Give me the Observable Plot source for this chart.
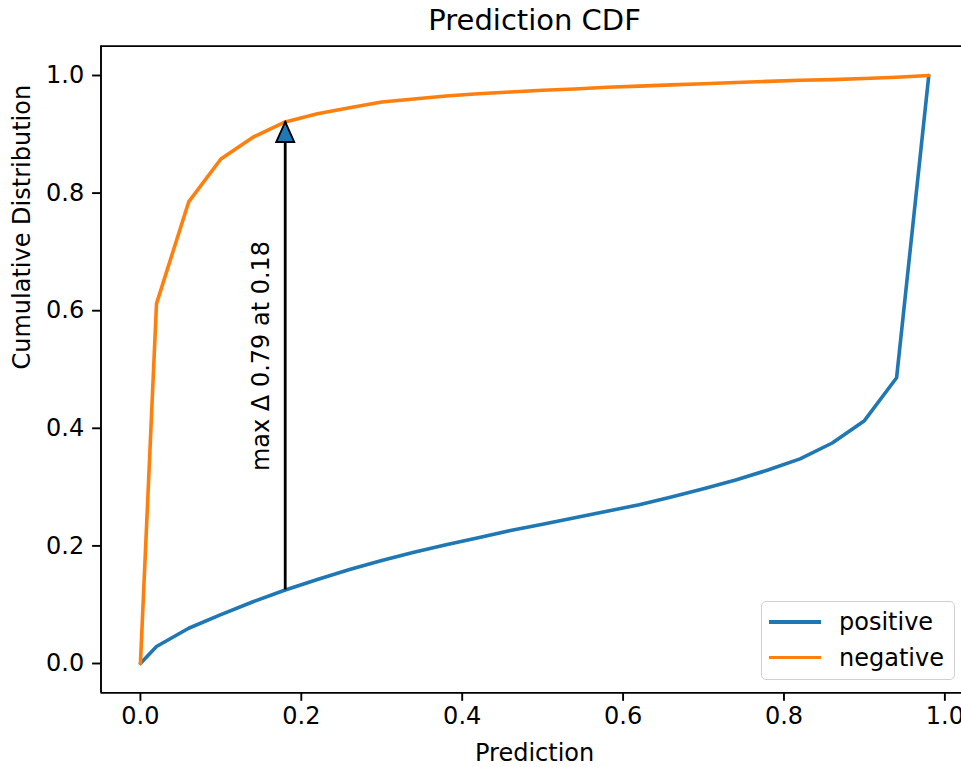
<!DOCTYPE html>
<html>
<head>
<meta charset="utf-8">
<script src="https://cdn.jsdelivr.net/npm/d3@7"></script>
<script src="https://cdn.jsdelivr.net/npm/@observablehq/plot@0.6"></script>
<style>
  html, body { margin: 0; padding: 0; background: #fff; }
  #wrap { position: relative; width: 961px; height: 767px; overflow: hidden; font-family: "DejaVu Sans", sans-serif; }
  #legend { position: absolute; left: 761px; top: 601px; width: 192px; height: 77px; border: 1.7px solid #d0d0d0; border-radius: 5px; background: rgba(255,255,255,0.85); }
  .item { position: absolute; left: 0; width: 100%; height: 30px; font-size: 24px; color: #000; }
  .swatch { position: absolute; left: 7px; width: 52px; height: 3.6px; top: 13.2px; }
  .lab { position: absolute; left: 77px; top: 0; white-space: nowrap; line-height: 30px; }
</style>
</head>
<body>
<div id="wrap"></div>
<script>
// ---- data ----
const thresholds = [0, 0.02, 0.06, 0.10, 0.14, 0.18, 0.22, 0.26, 0.30, 0.34, 0.38, 0.42, 0.46, 0.50, 0.54, 0.58, 0.62, 0.66, 0.70, 0.74, 0.78, 0.82, 0.86, 0.90, 0.94, 0.98];
const positiveCdf = [0, 0.029, 0.060, 0.083, 0.105, 0.125, 0.143, 0.160, 0.175, 0.189, 0.202, 0.214, 0.226, 0.237, 0.248, 0.259, 0.270, 0.283, 0.297, 0.312, 0.329, 0.348, 0.375, 0.413, 0.486, 1.0];
const negativeCdf = [0, 0.612, 0.785, 0.858, 0.895, 0.921, 0.935, 0.945, 0.955, 0.960, 0.965, 0.969, 0.972, 0.975, 0.977, 0.980, 0.982, 0.984, 0.986, 0.988, 0.990, 0.992, 0.993, 0.995, 0.997, 1.0];
const seriesNames = ["positive", "negative"];
const seriesColors = ["#1f77b4", "#ff7f0e"];
const xTicks = [0, 0.2, 0.4, 0.6, 0.8, 1.0];
const yTicks = [0, 0.2, 0.4, 0.6, 0.8, 1.0];
const xDomain = [-0.049, 1.029];
const yDomain = [-0.05, 1.05];
const maxDeltaAt = 0.18;
const maxDeltaLow = 0.125;
const maxDeltaHigh = 0.921;
const annotationText = "max Δ 0.79 at 0.18";
const titleText = "Prediction CDF";
const xLabel = "Prediction";
const yLabel = "Cumulative Distribution";

const rows = [];
thresholds.forEach((t, i) => rows.push({x: t, y: positiveCdf[i], s: seriesNames[0]}));
thresholds.forEach((t, i) => rows.push({x: t, y: negativeCdf[i], s: seriesNames[1]}));

const arrowData = [{x: maxDeltaAt, y1: maxDeltaLow, y2: maxDeltaHigh, ymid: (maxDeltaLow + maxDeltaHigh) / 2, label: annotationText}];

const headShape = {
  draw(ctx) {
    ctx.moveTo(0, 0);
    ctx.lineTo(9, 20);
    ctx.lineTo(-9, 20);
    ctx.closePath();
  }
};

const FONT = "DejaVu Sans";
const FS = 24;
const W = 961, H = 767;
const mL = 100.5, mR = -6.7, mT = 45.6, mB = 74.6;

const chart = Plot.plot({
  width: W,
  height: H,
  marginLeft: mL,
  marginRight: mR,
  marginTop: mT,
  marginBottom: mB,
  style: {fontFamily: FONT, fontSize: FS + "px", color: "#000", background: "#fff", overflow: "hidden"},
  x: {domain: xDomain},
  y: {domain: yDomain},
  color: {domain: seriesNames, range: seriesColors},
  marks: [
    Plot.line(rows, {x: "x", y: "y", z: "s", stroke: "s", strokeWidth: 3.6}),
    Plot.ruleX(arrowData, {x: "x", y1: "y1", y2: "y2", stroke: "#000", strokeWidth: 2.8}),
    Plot.dot(arrowData, {x: "x", y: "y2", symbol: headShape, fill: "#1f77b4", stroke: "#000", strokeWidth: 1.9, strokeLinejoin: "miter"}),
    Plot.text(arrowData, {x: "x", y: "ymid", text: "label", rotate: -90, dx: -24, fontSize: FS, fill: "#000"}),
    Plot.ruleY(yDomain, {stroke: "#000", strokeWidth: 1.9}),
    Plot.ruleX([xDomain[0]], {stroke: "#000", strokeWidth: 1.9}),
    Plot.axisX({ticks: xTicks, tickFormat: d3.format(".1f"), tickSize: 8.4, tickPadding: 6, strokeWidth: 1.9, fontSize: FS, label: null}),
    Plot.axisY({ticks: yTicks, tickFormat: d3.format(".1f"), tickSize: 8.4, tickPadding: 8.4, strokeWidth: 1.9, fontSize: FS, label: null}),
    Plot.text([titleText], {frameAnchor: "top", dy: -25, fontSize: 29, fill: "#000", lineAnchor: "middle"}),
    Plot.text([xLabel], {frameAnchor: "bottom", dy: 60, fontSize: FS, fill: "#000", lineAnchor: "middle"}),
    Plot.text([yLabel], {frameAnchor: "left", dx: -79, rotate: -90, fontSize: FS, fill: "#000", lineAnchor: "middle"})
  ]
});

const wrap = document.getElementById("wrap");
wrap.appendChild(chart);

const legend = document.createElement("div");
legend.id = "legend";
seriesNames.forEach((name, i) => {
  const item = document.createElement("div");
  item.className = "item";
  item.style.top = (5 + i * 35.6) + "px";
  const sw = document.createElement("div");
  sw.className = "swatch";
  sw.style.background = seriesColors[i];
  const lab = document.createElement("div");
  lab.className = "lab";
  lab.textContent = name;
  item.appendChild(sw);
  item.appendChild(lab);
  legend.appendChild(item);
});
wrap.appendChild(legend);
</script>
</body>
</html>
